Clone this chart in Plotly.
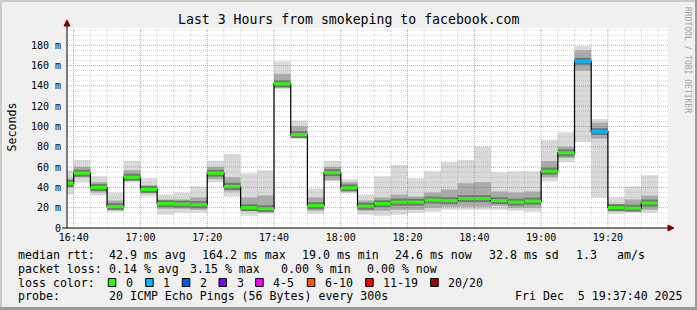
import plotly.graph_objects as go
import pandas as pd

# ---------------- data ----------------
title_text = "Last 3 Hours from smokeping to facebook.com"
bar_starts = pd.date_range("2025-12-05 16:35", periods=36, freq="5min")
step = pd.Timedelta(minutes=5)

rtt_min = [33, 45, 32, 16, 45, 31, 13, 15, 15, 45, 31, 12, 14, 137, 88, 14, 46, 34,
           13, 12, 13, 15, 16, 18, 18, 18, 18, 17, 16, 46, 65, 85, 30, 14, 15, 15]
rtt_q1 = [40, 50, 35, 18, 47, 34, 19, 19, 18, 48, 36, 17, 16, 138, 89, 17, 47, 36,
          17, 17, 18, 18, 20, 21, 21, 21, 22, 20, 20, 50, 69, 155, 88, 17, 17, 18]
rtt_median = [44, 54, 40, 21, 50, 38, 24, 23.5, 23, 54, 41, 20, 19, 142, 92, 22, 54.5, 39.5,
              21.5, 24, 25.5, 25.5, 27.5, 27, 29, 29, 27, 25.5, 26.5, 56, 74, 164.2, 95, 20, 19.5, 24.6]
rtt_q3 = [49, 60, 45, 27, 57, 42, 28, 28, 30, 60, 50, 30, 32, 152, 100, 30, 60, 45,
          27, 30, 33, 31, 35, 38, 44, 45, 36, 35, 36, 66, 80, 175, 104, 24, 28, 32]
rtt_max = [57, 67, 51, 35, 66, 49, 33, 35, 41, 66, 73, 54, 57, 164, 106, 39, 66, 48,
           33, 51, 62, 49, 56, 65, 67, 80, 55, 56, 56, 87, 94, 179, 107, 30, 41, 52]
lost_pings = [0, 0, 0, 0, 0, 0, 0, 0, 0, 0, 0, 0, 0, 0, 0, 0, 0, 0,
              0, 0, 0, 0, 0, 0, 0, 0, 0, 0, 0, 0, 0, 1, 1, 0, 0, 0]

y_tick_values = [0, 20, 40, 60, 80, 100, 120, 140, 160, 180]
y_tick_labels = ["0", "20 m", "40 m", "60 m", "80 m", "100 m", "120 m", "140 m", "160 m", "180 m"]

loss_labels = ["0", "1", "2", "3", "4-5", "6-10", "11-19", "20/20"]
loss_colors = ["#26ff00", "#00b8ff", "#0059ff", "#7e00ff", "#ff00ff", "#ff5500", "#ff0000", "#a10000"]
loss_upper = [0, 1, 2, 3, 5, 10, 19, 20]

stats_rtt = [("median rtt:", 16), ("42.9 ms avg", 107.3), ("164.2 ms max", 200),
             ("19.0 ms min", 300), ("24.6 ms now", 393.3), ("32.8 ms sd", 486.7),
             ("1.3", 574), ("am/s", 615)]
stats_loss = [("packet loss:", 16), ("0.14 % avg", 107.3), ("3.15 % max", 188.3),
              ("0.00 % min", 279.3), ("0.00 % now", 365)]
probe_row = [("probe:", 16), ("20 ICMP Echo Pings (56 Bytes) every 300s", 107.3),
             ("Fri Dec\u00a0\u00a05 19:37:40 2025", 513.3)]

# ---------------- geometry helpers (pixel -> paper) ----------------
W, H = 697, 310
L, R, T, B = 67, 29, 28, 82
PW, PH = W - L - R, H - T - B


def px(x):
    return (x - L) / PW


def py(y):
    return (H - B - y) / PH


def ts(t):
    return t.strftime("%Y-%m-%d %H:%M:%S")


X0 = pd.Timestamp("2025-12-05 16:38:00")
X1 = pd.Timestamp("2025-12-05 19:38:00")
Y1 = 197

MONO = "DejaVu Sans Mono"
fig = go.Figure()


def rects(lo, hi):
    xs, ys = [], []
    for s, a, b in zip(bar_starts, lo, hi):
        e = s + step
        xs += [ts(s), ts(e), ts(e), ts(s), ts(s), None]
        ys += [a, a, b, b, a, None]
    return xs, ys


for lo, hi, col in [(rtt_min, rtt_max, "#dadada"), (rtt_q1, rtt_q3, "#ababab")]:
    xs, ys = rects(lo, hi)
    fig.add_trace(go.Scatter(x=xs, y=ys, mode="lines", fill="toself", fillcolor=col,
                             line=dict(width=0), hoverinfo="skip", showlegend=False))

# dark band around the median
xs, ys = [], []
for s, m in zip(bar_starts, rtt_median):
    xs += [ts(s), ts(s + step), None]
    ys += [m, m, None]
fig.add_trace(go.Scatter(x=xs, y=ys, mode="lines", line=dict(color="#767676", width=7),
                         hoverinfo="skip", showlegend=False))

# grid (drawn above the smoke, like rrdtool)
def grid_trace(xs, ys, color):
    fig.add_trace(go.Scatter(x=xs, y=ys, mode="lines",
                             line=dict(color=color, width=1, dash="1px,1px"),
                             hoverinfo="skip", showlegend=False))


gx_min, gy_min, gx_maj, gy_maj = [], [], [], []
t = pd.Timestamp("2025-12-05 16:40")
while t < X1:
    if t.minute % 20 == 0:
        gx_maj += [ts(t), ts(t), None]; gy_maj += [0, Y1, None]
    else:
        gx_min += [ts(t), ts(t), None]; gy_min += [0, Y1, None]
    t += step
v = 5
while v < Y1:
    if v % 20 == 0:
        gx_maj += [ts(X0), ts(X1), None]; gy_maj += [v, v, None]
    else:
        gx_min += [ts(X0), ts(X1), None]; gy_min += [v, v, None]
    v += 5
grid_trace(gx_min, gy_min, "rgba(150,150,150,0.38)")
grid_trace(gx_maj, gy_maj, "rgba(235,60,60,0.55)")

# median step line
fig.add_trace(go.Scatter(x=[ts(s) for s in bar_starts] + [ts(bar_starts[-1] + step)],
                         y=rtt_median + [rtt_median[-1]], mode="lines",
                         line=dict(color="#000000", width=1.2, shape="hv"),
                         hoverinfo="skip", showlegend=False))

# coloured median segments by loss
def loss_index(n):
    for i, u in enumerate(loss_upper):
        if n <= u:
            return i
    return len(loss_upper) - 1


for ci, col in enumerate(loss_colors):
    xs, ys = [], []
    for s, m, n in zip(bar_starts, rtt_median, lost_pings):
        if loss_index(n) == ci:
            xs += [ts(s), ts(s + step), None]
            ys += [m, m, None]
    if xs:
        fig.add_trace(go.Scatter(x=xs, y=ys, mode="lines", line=dict(color=col, width=3),
                                 hoverinfo="skip", showlegend=False))

shapes = []
# frame
for (x0, y0, x1, y1, c) in [(0, 0, W, 2, "#cbcbcb"), (0, 0, 2, H, "#cbcbcb"),
                            (0, H - 3, W, H, "#9a9a9a"), (W - 2, 0, W, H, "#9a9a9a")]:
    shapes.append(dict(type="rect", xref="paper", yref="paper", x0=px(x0), x1=px(x1),
                       y0=py(y1), y1=py(y0), fillcolor=c, line=dict(width=0), layer="below"))
# axes with arrows
shapes.append(dict(type="line", xref="paper", yref="paper", x0=px(67), x1=px(67),
                   y0=py(228), y1=py(22), line=dict(color="#000000", width=1)))
shapes.append(dict(type="line", xref="paper", yref="paper", x0=px(62), x1=px(672),
                   y0=py(228), y1=py(228), line=dict(color="#000000", width=1)))
shapes.append(dict(type="path", xref="paper", yref="paper",
                   path=f"M {px(64)},{py(26)} L {px(70)},{py(26)} L {px(67)},{py(20)} Z",
                   fillcolor="#7f0000", line=dict(color="#7f0000", width=1)))
shapes.append(dict(type="path", xref="paper", yref="paper",
                   path=f"M {px(668)},{py(225)} L {px(668)},{py(231)} L {px(674)},{py(228)} Z",
                   fillcolor="#7f0000", line=dict(color="#7f0000", width=1)))

annotations = []


def text(s, x, y, size=11.6, anchor="left", color="#000000", angle=0):
    annotations.append(dict(text=s, x=px(x), y=py(y), xref="paper", yref="paper",
                            xanchor=anchor, yanchor="middle", showarrow=False,
                            textangle=angle, font=dict(family=MONO, size=size, color=color)))


text(title_text, 348, 19, size=13.2, anchor="center")
text("Seconds", 11, 127.5, anchor="center", angle=-90)
text("RRDTOOL / TOBI OETIKER", 688, 60, size=8, anchor="center", color="#a0a0a0", angle=90)

for s, x in stats_rtt:
    text(s, x, 254.5)
for s, x in stats_loss:
    text(s, x, 268.5)
text("loss color:", 16, 282.5)
box_x = [108.3, 145.7, 182.3, 219, 255.7, 307.3, 365.7, 430.7]
for bx, lab, col in zip(box_x, loss_labels, loss_colors):
    shapes.append(dict(type="rect", xref="paper", yref="paper", x0=px(bx), x1=px(bx + 7.5),
                       y0=py(286.5), y1=py(278.5), fillcolor=col,
                       line=dict(color="#000000", width=1)))
    text(lab, bx + 15.7, 282.5)
for s, x in probe_row:
    text(s, x, 295.5)

fig.update_layout(
    width=W, height=H, margin=dict(l=L, r=R, t=T, b=B),
    paper_bgcolor="#f0f0f0", plot_bgcolor="#ffffff",
    shapes=shapes, annotations=annotations, showlegend=False,
    xaxis=dict(range=[ts(X0), ts(X1)], type="date", showgrid=False, zeroline=False,
               showline=False, tickmode="array",
               tickvals=[ts(pd.Timestamp("2025-12-05 16:40") + pd.Timedelta(minutes=20 * i)) for i in range(9)],
               tickformat="%H:%M", ticks="", ticklabelstandoff=2,
               tickfont=dict(family=MONO, size=10, color="#000000")),
    yaxis=dict(range=[0, Y1], showgrid=False, zeroline=False, showline=False,
               tickmode="array", tickvals=y_tick_values, ticktext=y_tick_labels,
               ticks="", ticklabelstandoff=5,
               tickfont=dict(family=MONO, size=10, color="#000000")),
)

fig.write_html("out.html", config={"displayModeBar": False})
